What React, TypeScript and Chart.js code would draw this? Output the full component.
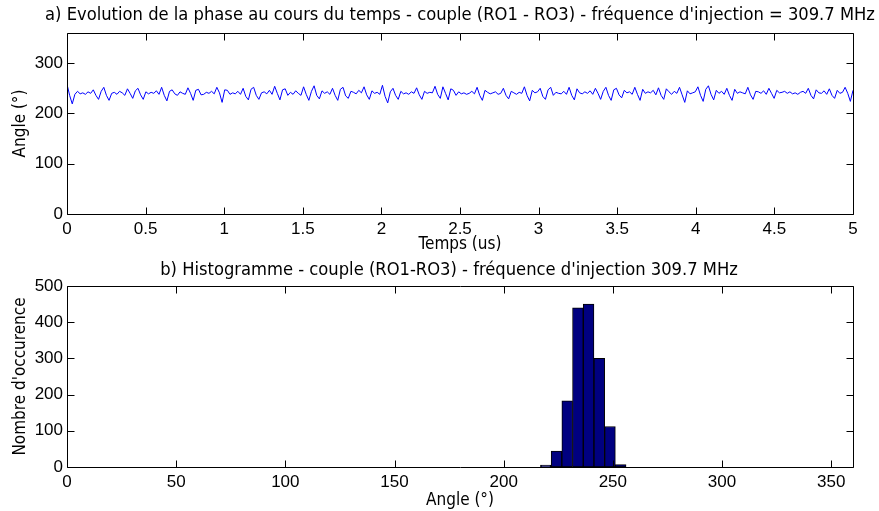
import React, { useEffect, useRef } from "react";
import { Chart, registerables } from "chart.js";

Chart.register(...registerables);

// ---- Data ----
const topTitle =
  "a) Evolution de la phase au cours du temps - couple (RO1 - RO3) - fréquence d'injection = 309.7 MHz";
const bottomTitle =
  "b) Histogramme - couple (RO1-RO3) - fréquence d'injection 309.7 MHz";

const timeStart = 0;
const timeEnd = 5; // us
const phaseValues = [
  258, 236, 219, 238, 244, 239, 241, 238, 243, 240,
  247, 236, 228, 244, 252, 236, 226, 240, 242, 238,
  244, 241, 236, 249, 240, 230, 245, 250, 237, 228,
  243, 239, 242, 240, 245, 238, 252, 236, 225, 244,
  247, 239, 236, 243, 240, 238, 251, 240, 226, 246,
  248, 237, 238, 242, 240, 244, 239, 252, 241, 222,

  247, 246, 238, 241, 239, 244, 238, 250, 234, 227,
  248, 252, 236, 228, 241, 243, 239, 246, 238, 254,
  240, 227, 247, 249, 236, 242, 238, 245, 240, 236,
  253, 238, 226, 244, 255, 236, 229, 245, 240, 243,
  238, 250, 236, 226, 248, 252, 235, 230, 244, 242,
  239, 246, 241, 253, 237, 228, 245, 240, 242, 238,

  256, 234, 221, 243, 250, 236, 228, 244, 239, 241,
  238, 243, 240, 251, 237, 228, 244, 240, 242, 241,
  254, 238, 230, 253, 240, 227, 249, 246, 236, 243,
  239, 241, 238, 240, 244, 239, 252, 236, 226, 246,
  242, 239, 241, 243, 238, 240, 250, 236, 229, 244,
  241, 238, 242, 240, 253, 236, 225, 246, 241, 243,

  250, 234, 228, 247, 252, 236, 242, 240, 239, 244,
  238, 252, 236, 227, 249, 241, 239, 243, 240, 245,
  238, 250, 240, 228, 244, 252, 236, 226, 247, 250,
  237, 231, 246, 241, 243, 238, 252, 238, 226, 248,
  240, 243, 241, 246, 237, 251, 236, 228, 249, 243,
  238, 244, 240, 252, 237, 222, 245, 239, 241, 243,

  253, 236, 224, 248, 255, 238, 227, 246, 240, 244,
  238, 250, 236, 226, 248, 240, 243, 241, 239, 252,
  237, 228, 244, 243, 240, 245, 238, 250, 240, 230,
  246, 241, 242, 244, 240, 243, 239, 241, 238, 242,
  244, 240, 250, 236, 229, 247, 241, 240, 245, 238,
  249, 236, 230, 246, 240, 242, 252, 240, 224, 246,
];
const topXTicks = [0, 0.5, 1, 1.5, 2, 2.5, 3, 3.5, 4, 4.5, 5];
const topYTicks = [0, 100, 200, 300];

const binCenters = [219.3, 224.2, 229.1, 234.0, 238.9, 243.8, 248.7, 253.6];
const binCounts = [5, 44, 183, 440, 450, 300, 112, 7];
const bottomXTicks = [0, 50, 100, 150, 200, 250, 300, 350];
const bottomYTicks = [0, 100, 200, 300, 400, 500];

// ---- Styling helpers ----
const TICK_FONT = { family: "'Liberation Sans', Arial, sans-serif", size: 17 };
const LABEL_FAMILY = "'DejaVu Sans Condensed', 'DejaVu Sans', sans-serif";
const LABEL_FONT = { family: LABEL_FAMILY, size: 17 };

// Axes box with inward ticks on all four sides (MATLAB style)
const matlabBox = {
  id: "matlabBox",
  afterDatasetsDraw(chart: any) {
    const { ctx, chartArea, scales } = chart;
    const left = Math.round(chartArea.left) + 0.5;
    const right = Math.round(chartArea.right) + 0.5;
    const top = Math.round(chartArea.top) + 0.5;
    const bottom = Math.round(chartArea.bottom) + 0.5;
    const L = 7;
    ctx.save();
    ctx.strokeStyle = "#000";
    ctx.lineWidth = 1;
    ctx.beginPath();
    ctx.rect(left, top, right - left, bottom - top);
    scales.x.ticks.forEach((t: any) => {
      const px = Math.round(scales.x.getPixelForValue(t.value)) + 0.5;
      ctx.moveTo(px, bottom);
      ctx.lineTo(px, bottom - L);
      ctx.moveTo(px, top);
      ctx.lineTo(px, top + L);
    });
    scales.y.ticks.forEach((t: any) => {
      const py = Math.round(scales.y.getPixelForValue(t.value)) + 0.5;
      ctx.moveTo(left, py);
      ctx.lineTo(left + L, py);
      ctx.moveTo(right, py);
      ctx.lineTo(right - L, py);
    });
    ctx.stroke();
    ctx.restore();
  },
};

// Title centred over the axes box (as MATLAB does)
const axesTitle = {
  id: "axesTitle",
  afterDraw(chart: any, _args: any, opts: any) {
    if (!opts || !opts.text) return;
    const { ctx, chartArea } = chart;
    ctx.save();
    ctx.font = `${opts.size}px ${LABEL_FAMILY}`;
    ctx.fillStyle = "#000";
    ctx.textAlign = "center";
    ctx.textBaseline = "middle";
    ctx.fillText(opts.text, (chartArea.left + chartArea.right) / 2 + (opts.dx || 0), opts.y);
    ctx.restore();
  },
};

function axisX(min: number, max: number, ticks: number[], title: string, height: number, titlePadTop: number) {
  return {
    type: "linear" as const,
    min,
    max,
    offset: false,
    grid: { display: false, drawTicks: false, offset: false },
    border: { display: false },
    afterBuildTicks: (s: any) => {
      s.ticks = ticks.map((v) => ({ value: v }));
    },
    afterFit: (s: any) => {
      s.height = height;
    },
    ticks: {
      color: "#000",
      font: TICK_FONT,
      padding: 5,
      maxRotation: 0,
      autoSkip: false,
      callback: (v: any) => String(v),
    },
    title: {
      display: true,
      text: title,
      color: "#000",
      font: LABEL_FONT,
      padding: { top: titlePadTop, bottom: 0 },
    },
  };
}

function axisY(min: number, max: number, ticks: number[], title: string) {
  return {
    type: "linear" as const,
    min,
    max,
    grid: { display: false, drawTicks: false },
    border: { display: false },
    afterBuildTicks: (s: any) => {
      s.ticks = ticks.map((v) => ({ value: v }));
    },
    afterFit: (s: any) => {
      s.width = 67;
    },
    ticks: {
      color: "#000",
      font: TICK_FONT,
      padding: 4,
      autoSkip: false,
      callback: (v: any) => String(v),
    },
    title: {
      display: true,
      text: title,
      color: "#000",
      font: LABEL_FONT,
      padding: { top: 10, bottom: 0 },
    },
  };
}

export default function App() {
  const topRef = useRef<HTMLCanvasElement>(null);
  const botRef = useRef<HTMLCanvasElement>(null);

  useEffect(() => {
    const dt = (timeEnd - timeStart) / (phaseValues.length - 1);
    const top = new Chart(topRef.current!, {
      type: "line",
      data: {
        datasets: [
          {
            data: phaseValues.map((v, i) => ({ x: timeStart + i * dt, y: v })),
            borderColor: "#0000ff",
            borderWidth: 1,
            pointRadius: 0,
            tension: 0,
            fill: false,
          },
        ],
      },
      options: {
        responsive: false,
        animation: false,
        devicePixelRatio: 1,
        layout: { padding: { left: 0, right: 26, top: 33, bottom: 0 } },
        plugins: {
          legend: { display: false },
          tooltip: { enabled: false },
          title: { display: false },
          axesTitle: { text: topTitle, size: 18.2, y: 15, dx: 0 },
        } as any,
        scales: {
          x: axisX(0, 5, topXTicks, "Temps (us)", 41, 2),
          y: axisY(0, 360, topYTicks, "Angle (°)"),
        },
      },
      plugins: [matlabBox, axesTitle],
    });

    const bot = new Chart(botRef.current!, {
      type: "bar",
      data: {
        datasets: [
          {
            data: binCenters.map((c, i) => ({ x: c, y: binCounts[i] })),
            backgroundColor: "#000080",
            borderColor: "#000000",
            borderWidth: 1,
            borderSkipped: false,
            barPercentage: 1,
            categoryPercentage: 1,
          },
        ],
      },
      options: {
        responsive: false,
        animation: false,
        devicePixelRatio: 1,
        layout: { padding: { left: 0, right: 26, top: 31, bottom: 0 } },
        plugins: {
          legend: { display: false },
          tooltip: { enabled: false },
          title: { display: false },
          axesTitle: { text: bottomTitle, size: 18.2, y: 15, dx: -11 },
        } as any,
        scales: {
          x: axisX(0, 360, bottomXTicks, "Angle (°)", 44, 7),
          y: axisY(0, 500, bottomYTicks, "Nombre d'occurence"),
        },
      },
      plugins: [matlabBox, axesTitle],
    });

    return () => {
      top.destroy();
      bot.destroy();
    };
  }, []);

  return (
    <div
      style={{
        position: "fixed",
        left: 0,
        top: 0,
        width: 879,
        height: 511,
        background: "#fff",
      }}
    >
      <canvas
        ref={topRef}
        width={879}
        height={255}
        style={{ position: "absolute", left: 0, top: 0, width: 879, height: 255 }}
      />
      <canvas
        ref={botRef}
        width={879}
        height={256}
        style={{ position: "absolute", left: 0, top: 255, width: 879, height: 256 }}
      />
    </div>
  );
}
